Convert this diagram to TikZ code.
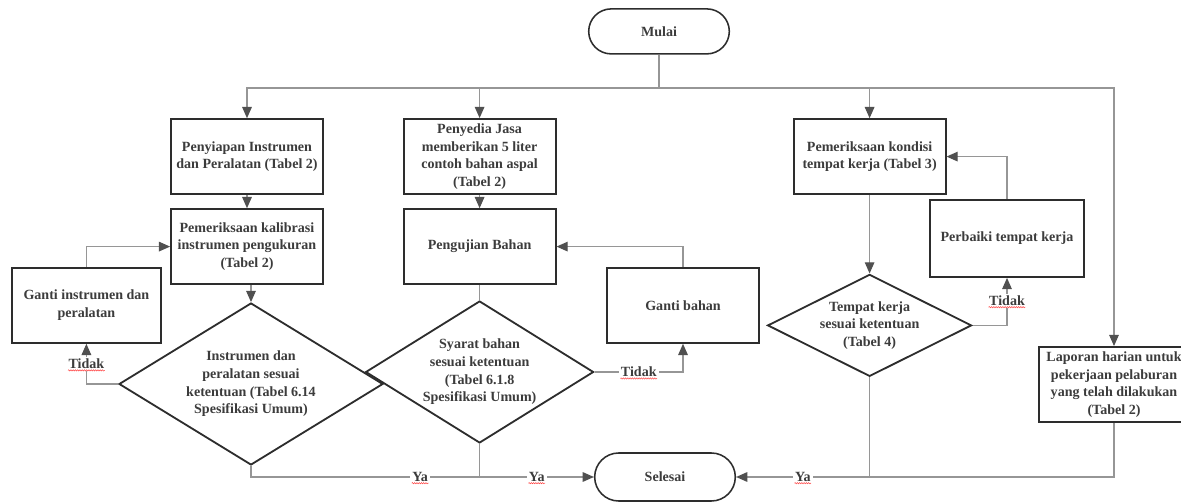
\documentclass[tikz,border=0pt]{standalone}
\usepackage{fontspec}
\setmainfont{Liberation Serif}
\newfontfamily\flowfont{Liberation Serif}
\usepackage{xcolor}
\usepackage{tikz}
\definecolor{boxline}{RGB}{45, 45, 45}
\definecolor{textgray}{RGB}{60, 60, 60}
\definecolor{flowgray}{RGB}{150, 150, 150}
\definecolor{headgray}{RGB}{80, 80, 80}
\usetikzlibrary{shapes, arrows.meta, positioning, calc, shapes.geometric, decorations.pathmorphing}

\begin{document}
\begin{tikzpicture}[
    font=\flowfont\fontsize{10}{12.6}\selectfont\bfseries,
    process/.style={rectangle, draw=boxline, line width=1.3pt, minimum width=3.8cm, minimum height=1.875cm, align=center, text=textgray},
    terminal/.style={rounded rectangle, draw=boxline, line width=1.1pt, minimum width=3.75cm, minimum height=1.125cm, text=textgray},
    decision/.style={diamond, draw=boxline, line width=1.3pt, align=center, inner sep=0pt, aspect=1.6, text=textgray},
    line/.style={draw=flowgray, line width=0.8pt},
    arrow/.style={line, -{Triangle[length=2.8mm, width=2.4mm, color=headgray]}},
    answer/.style={fill=white, inner sep=1.5pt, text=textgray},
    typo/.style={draw=red!75, line width=0.35pt, decorate, decoration={snake, amplitude=0.45pt, segment length=1.6pt}}
]
    \useasboundingbox (0, 0) rectangle (29.525, 12.525);

    \node[terminal] (mulai) at (16.475, 11.74) {Mulai};

    \node[process] (siap) at (6.175, 8.61) {Penyiapan Instrumen\\dan Peralatan (Tabel 2)};
    \node[process] (kalib) at (6.175, 6.36) {Pemeriksaan kalibrasi\\instrumen pengukuran\\(Tabel 2)};
    \node[process, minimum width=3.73cm] (gantialat) at (2.16, 4.89) {Ganti instrumen dan\\peralatan};
    \node[decision, minimum width=6.6cm, minimum height=4.05cm] (cekalat) at (6.275, 2.925) {Instrumen dan\\peralatan sesuai\\ketentuan (Tabel 6.14\\Spesifikasi Umum)};

    \node[process] (sedia) at (11.99, 8.61) {Penyedia Jasa\\memberikan 5 liter\\contoh bahan aspal\\(Tabel 2)};
    \node[process] (uji) at (11.99, 6.36) {Pengujian Bahan};
    \node[decision, minimum width=5.7cm, minimum height=3.55cm] (cekbahan) at (11.99, 3.225) {Syarat bahan\\sesuai ketentuan\\(Tabel 6.1.8\\Spesifikasi Umum)};
    \node[process] (gantibahan) at (17.075, 4.89) {Ganti bahan};

    \node[process] (kondisi) at (21.74, 8.61) {Pemeriksaan kondisi\\tempat kerja (Tabel 3)};
    \node[process, minimum width=3.85cm, minimum height=1.925cm] (perbaiki) at (25.175, 6.5625) {Perbaiki tempat kerja};
    \node[decision, aspect=2, minimum width=5.1cm, minimum height=2.55cm] (cektempat) at (21.74, 4.39) {Tempat kerja\\sesuai ketentuan\\(Tabel 4)};

    \node[process, minimum width=3.75cm] (laporan) at (27.85, 2.91) {Laporan harian untuk\\pekerjaan pelaburan\\yang telah dilakukan\\(Tabel 2)};

    \node[terminal, minimum height=1.2cm] (selesai) at (16.625, 0.6) {Selesai};

    \coordinate (cabang) at (16.475, 10.325);
    \coordinate (gabungkiri) at (cekbahan.south |- selesai.west);
    \coordinate (gabungkanan) at (cektempat.south |- selesai.east);

    \draw[line] (mulai.south) -- (cabang);
    \draw[arrow] (cabang) -| (siap.north);
    \draw[arrow] (cabang) -| (sedia.north);
    \draw[arrow] (cabang) -| (kondisi.north);
    \draw[arrow] (cabang) -| (laporan.north);

    \draw[arrow] (siap.south) -- (kalib.north);
    \draw[arrow] (cekalat.north |- kalib.south) -- (cekalat.north);
    \draw[arrow] (cekalat.west) -| node[answer, pos=0.75] (t1) {Tidak} (gantialat.south);
    \draw[arrow] (gantialat.north) |- (kalib.west);

    \draw[arrow] (sedia.south) -- (uji.north);
    \draw[line] (uji.south) -- (cekbahan.north);
    \draw[arrow] (cekbahan.east) -| node[answer, pos=0.25] (t2) {Tidak} (gantibahan.south);
    \draw[arrow] (gantibahan.north) |- (uji.east);

    \draw[arrow] (kondisi.south) -- (cektempat.north);
    \draw[arrow] (cektempat.east) -| node[answer, pos=0.76] (t3) {Tidak} (perbaiki.south);
    \draw[arrow] (perbaiki.north) |- (kondisi.east);

    \draw[line] (cekalat.south) |- node[answer, pos=0.87] (y1) {Ya} (gabungkiri);
    \draw[arrow] (cekbahan.south) -- (gabungkiri) -- node[answer] (y2) {Ya} (selesai.west);
    \draw[line] (laporan.south) |- (gabungkanan);
    \draw[arrow] (cektempat.south) -- (gabungkanan) -- node[answer] (y3) {Ya} (selesai.east);

    \draw[typo] ([xshift=1.5pt, yshift=0.8pt]t1.south west) -- ([xshift=-1.5pt, yshift=0.8pt]t1.south east);
    \draw[typo] ([xshift=1.5pt, yshift=0.8pt]t2.south west) -- ([xshift=-1.5pt, yshift=0.8pt]t2.south east);
    \draw[typo] ([xshift=1.5pt, yshift=0.8pt]t3.south west) -- ([xshift=-1.5pt, yshift=0.8pt]t3.south east);
    \draw[typo] ([xshift=1.5pt, yshift=0.8pt]y1.south west) -- ([xshift=-1.5pt, yshift=0.8pt]y1.south east);
    \draw[typo] ([xshift=1.5pt, yshift=0.8pt]y2.south west) -- ([xshift=-1.5pt, yshift=0.8pt]y2.south east);
    \draw[typo] ([xshift=1.5pt, yshift=0.8pt]y3.south west) -- ([xshift=-1.5pt, yshift=0.8pt]y3.south east);
\end{tikzpicture}
\end{document}
